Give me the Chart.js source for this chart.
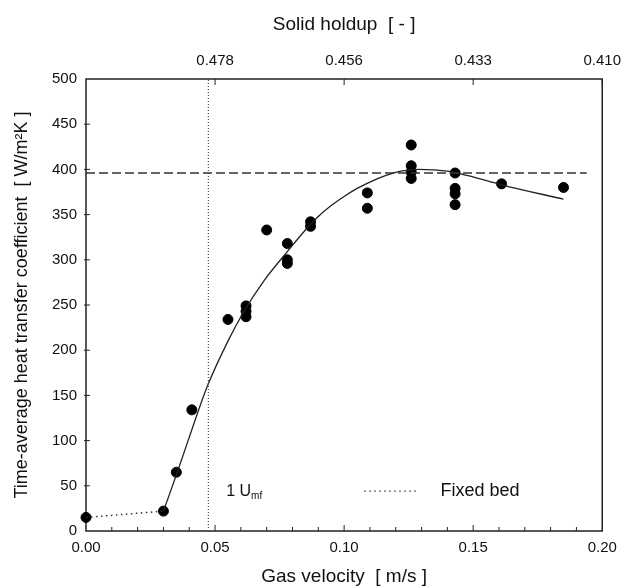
<!DOCTYPE html>
<html lang="en">
<head>
<meta charset="UTF-8">
<title>Heat transfer coefficient vs gas velocity</title>
<script src="https://cdn.jsdelivr.net/npm/chart.js"></script>
<style>
  html, body { margin: 0; padding: 0; background: #fff; }
</style>
</head>
<body>
<canvas id="htcChart" width="630" height="588"></canvas>

<script>
// measured points
const gasVelocity = [0, 0.030, 0.035, 0.041, 0.055, 0.062, 0.062, 0.062, 0.070, 0.078, 0.078, 0.078,
    0.087, 0.087, 0.109, 0.109, 0.126, 0.126, 0.126, 0.126, 0.143, 0.143, 0.143, 0.143, 0.161, 0.185];
const heatTransfer = [15, 22, 65, 134, 234, 249, 243, 237, 333, 318, 300, 296,
    342, 337, 374, 357, 427, 404, 397, 390, 396, 379, 373, 361, 384, 380];

// fitted curve
const fitVelocity = [0.030, 0.035, 0.041, 0.047, 0.055, 0.061, 0.069, 0.078, 0.085, 0.090, 0.095, 0.100,
    0.105, 0.110, 0.116, 0.122, 0.129, 0.140, 0.148, 0.161, 0.185];
const fitHeat = [22, 62, 112, 160, 210, 242, 277, 309, 333, 348, 360, 370,
    379, 386, 393, 398, 400, 398, 393, 383, 367];

// fixed bed segment
const fixedBedVelocity = [0, 0.030];
const fixedBedHeat = [15, 22];

const umfVelocity = 0.0474;     // 1 Umf
const plateauHeat = 396;        // dashed level
const plateauEnd = 0.194;

const velocityTicks = [0, 0.05, 0.10, 0.15, 0.20];
const holdupTickPos = [0.05, 0.10, 0.15, 0.20];
const holdupLabels = ['0.478', '0.456', '0.433', '0.410'];

const FONT = 'Liberation Sans, Arial, Helvetica, sans-serif';
const INK = '#111';

function pts(xs, ys) {
    return xs.map((x, i) => ({x: x, y: ys[i]}));
}

// frame + inward ticks
const frameTicks = {
    id: 'frameTicks',
    beforeDatasetsDraw(chart) {
        const {ctx, chartArea: a, scales} = chart;
        ctx.save();
        ctx.strokeStyle = '#222';
        ctx.lineWidth = 1.5;
        ctx.strokeRect(a.left, a.top, a.right - a.left, a.bottom - a.top);
        ctx.lineWidth = 1;
        ctx.beginPath();
        for (let i = 1; i < 20; i++) {
            const px = scales.x.getPixelForValue(i / 100);
            const len = i % 5 === 0 ? 6 : 4;
            ctx.moveTo(px, a.bottom);
            ctx.lineTo(px, a.bottom - len);
        }
        for (let v = 50; v < 500; v += 50) {
            const py = scales.y.getPixelForValue(v);
            ctx.moveTo(a.left - 2, py);
            ctx.lineTo(a.left + 4, py);
        }
        holdupTickPos.forEach(v => {
            const px = scales.xTop.getPixelForValue(v);
            ctx.moveTo(px, a.top);
            ctx.lineTo(px, a.top + 6);
        });
        ctx.stroke();
        ctx.restore();
    }
};

// "1 Umf" note and the "Fixed bed" key
const notes = {
    id: 'notes',
    afterDraw(chart) {
        const {ctx, scales} = chart;
        const x = scales.x, y = scales.y;
        const yy = y.getPixelForValue(44);
        ctx.save();
        ctx.fillStyle = INK;
        ctx.textBaseline = 'middle';
        ctx.font = '16px ' + FONT;
        const x0 = x.getPixelForValue(0.0543);
        ctx.fillText('1 U', x0, yy);
        const w = ctx.measureText('1 U').width;
        ctx.font = '10px ' + FONT;
        ctx.fillText('mf', x0 + w, yy + 5);

        ctx.strokeStyle = '#333';
        ctx.lineWidth = 1.2;
        ctx.setLineDash([1.5, 3.5]);
        ctx.beginPath();
        ctx.moveTo(x.getPixelForValue(0.1078), yy);
        ctx.lineTo(x.getPixelForValue(0.1285), yy);
        ctx.stroke();
        ctx.setLineDash([]);
        ctx.font = '18px ' + FONT;
        ctx.fillText('Fixed bed', x.getPixelForValue(0.1373), yy);
        ctx.restore();
    }
};

const ctx = document.getElementById('htcChart').getContext('2d');
const chart = new Chart(ctx, {
    type: 'scatter',
    data: {
        datasets: [
            {
                label: 'Umf',
                data: [{x: umfVelocity, y: 0}, {x: umfVelocity, y: 500}],
                showLine: true,
                borderColor: '#444',
                borderWidth: 1.2,
                borderDash: [1, 2],
                pointRadius: 0
            },
            {
                label: 'plateau',
                data: [{x: 0, y: plateauHeat}, {x: plateauEnd, y: plateauHeat}],
                showLine: true,
                borderColor: '#333',
                borderWidth: 1.5,
                borderDash: [9, 4],
                pointRadius: 0
            },
            {
                label: 'Fixed bed',
                data: pts(fixedBedVelocity, fixedBedHeat),
                showLine: true,
                borderColor: '#333',
                borderWidth: 1.5,
                borderDash: [1.5, 3.5],
                pointRadius: 0
            },
            {
                label: 'fit',
                data: pts(fitVelocity, fitHeat),
                showLine: true,
                cubicInterpolationMode: 'monotone',
                borderColor: '#222',
                borderWidth: 1.3,
                pointRadius: 0
            },
            {
                label: 'measured',
                data: pts(gasVelocity, heatTransfer),
                backgroundColor: '#000',
                borderColor: '#000',
                pointRadius: 5,
                pointHoverRadius: 5,
                clip: false
            }
        ]
    },
    options: {
        responsive: false,
        animation: false,
        layout: {padding: {left: 0, right: 22, top: 0, bottom: 0}},
        plugins: {legend: {display: false}, tooltip: {enabled: false}},
        scales: {
            x: {
                type: 'linear',
                position: 'bottom',
                min: 0,
                max: 0.2,
                afterBuildTicks: s => { s.ticks = velocityTicks.map(v => ({value: v})); },
                afterFit: s => { s.height = 57; },
                grid: {display: false, drawTicks: false},
                border: {display: false},
                ticks: {
                    padding: 8,
                    color: INK,
                    font: {family: FONT, size: 15},
                    callback: v => v.toFixed(2)
                },
                title: {
                    display: true,
                    text: 'Gas velocity  [ m/s ]',
                    color: INK,
                    font: {family: FONT, size: 19},
                    padding: {top: 0, bottom: 0}
                }
            },
            xTop: {
                type: 'linear',
                position: 'top',
                min: 0,
                max: 0.2,
                afterBuildTicks: s => { s.ticks = holdupTickPos.map(v => ({value: v})); },
                afterFit: s => { s.height = 79; },
                grid: {display: false, drawTicks: false},
                border: {display: false},
                ticks: {
                    padding: 9,
                    color: INK,
                    font: {family: FONT, size: 15},
                    callback: (v, i) => holdupLabels[i]
                },
                title: {
                    display: true,
                    text: 'Solid holdup  [ - ]',
                    color: INK,
                    font: {family: FONT, size: 19},
                    padding: {top: 13, bottom: 0}
                }
            },
            y: {
                type: 'linear',
                min: 0,
                max: 500,
                afterFit: s => { s.width = 86; },
                grid: {display: false, drawTicks: false},
                border: {display: false},
                ticks: {
                    stepSize: 50,
                    padding: 9,
                    color: INK,
                    font: {family: FONT, size: 15}
                },
                title: {
                    display: true,
                    text: 'Time-average heat transfer coefficient  [ W/m²K ]',
                    color: INK,
                    font: {family: FONT, size: 18},
                    padding: {top: 11, bottom: 0}
                }
            }
        }
    },
    plugins: [frameTicks, notes]
});
</script>
</body>
</html>
